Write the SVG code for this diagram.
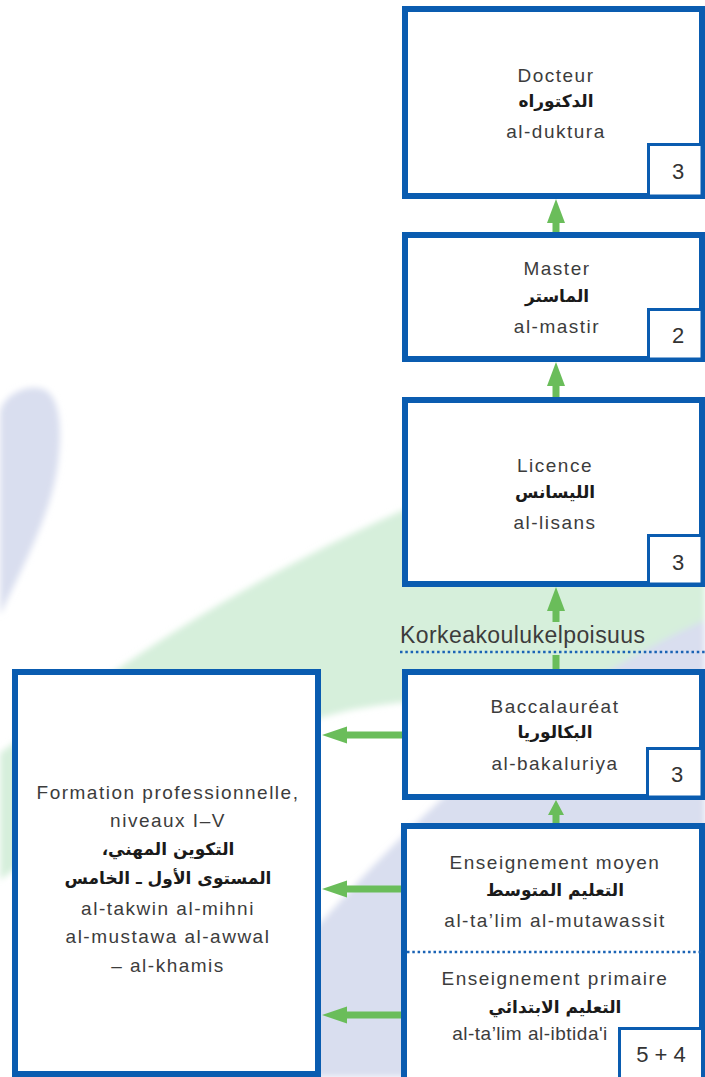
<svg xmlns="http://www.w3.org/2000/svg" width="705" height="1077" viewBox="0 0 705 1077">
<defs>
<style>
.box{fill:#fff;stroke:#0a5cb0;stroke-width:6}
.sbox{fill:#fff;stroke:#0a5cb0;stroke-width:3}
.t{font-family:"Liberation Sans",Arial,sans-serif;font-size:19px;letter-spacing:1.5px;fill:#3c3c3c;text-anchor:middle}
.ar{font-family:"DejaVu Sans",sans-serif;font-weight:bold;font-size:17px;fill:#1a1a1a;text-anchor:middle;direction:rtl}
.num{font-family:"Liberation Sans",Arial,sans-serif;font-size:22px;fill:#333;text-anchor:middle}
.arw{fill:#6abd5a}
.dot{stroke:#1a63b5;stroke-width:2.5;stroke-dasharray:2.5 2.8;fill:none}
</style>
<filter id="soft" x="-10%" y="-10%" width="120%" height="120%"><feGaussianBlur stdDeviation="3"/></filter>
</defs>
<rect width="705" height="1077" fill="#fff"/>
<g id="background" filter="url(#soft)">
<path d="M0 412 C5 392 30 383 45 390 C63 400 61 440 58 463 C52 512 25 562 0 615 Z" fill="#d9deef"/>
<path d="M0 753 C120 667 300 520 705 400 L705 700 C560 690 430 695 350 710 C220 740 80 820 0 880 Z" fill="#d6efdb"/>
<path d="M190 1077 C320 920 480 720 705 620 L705 1077 Z" fill="#d9deef"/>
</g>
<g id="connectors">
<polygon class="arw" points="556,199 547,223 565,223"/><rect class="arw" x="552.5" y="222" width="7" height="11"/>
<polygon class="arw" points="556,362 547,386 565,386"/><rect class="arw" x="552.5" y="385" width="7" height="12"/>
<polygon class="arw" points="556,587 547,611 565,611"/><rect class="arw" x="552.5" y="610" width="7" height="12"/><rect class="arw" x="552.5" y="655" width="7" height="15"/>
<polygon class="arw" points="556,800 548,815 564,815"/><rect class="arw" x="552.5" y="814" width="7" height="10"/>
<polygon class="arw" points="322,735 347,726.5 347,743.5"/><rect class="arw" x="346" y="731.5" width="56" height="7"/>
<polygon class="arw" points="322,889 347,880.5 347,897.5"/><rect class="arw" x="346" y="885.5" width="56" height="7"/>
<polygon class="arw" points="322,1015 347,1006.5 347,1023.5"/><rect class="arw" x="346" y="1011.5" width="56" height="7"/>
</g>
<g id="threshold">
<text x="400" y="643" font-family="Liberation Sans, Arial, sans-serif" font-size="23" fill="#3c3c3c" textLength="245">Korkeakoulukelpoisuus</text>
<line class="dot" x1="400" y1="652" x2="705" y2="652"/>
</g>
<g id="docteur">
<rect class="box" x="405" y="9" width="297" height="187"/>
<text class="t" x="556" y="82">Docteur</text>
<text class="ar" x="556" y="107">الدكتوراه</text>
<text class="t" x="556" y="138">al-duktura</text>
<rect class="sbox" x="648.5" y="144.5" width="53.5" height="51.5"/>
<text class="num" x="678" y="179">3</text>
</g>
<g id="master">
<rect class="box" x="405" y="235" width="297" height="124"/>
<text class="t" x="557" y="275">Master</text>
<text class="ar" x="557" y="302">الماستر</text>
<text class="t" x="557" y="333">al-mastir</text>
<rect class="sbox" x="648.5" y="309.5" width="53.5" height="49.5"/>
<text class="num" x="678" y="343">2</text>
</g>
<g id="licence">
<rect class="box" x="405" y="400" width="297" height="184"/>
<text class="t" x="555" y="472">Licence</text>
<text class="ar" x="555" y="498">الليسانس</text>
<text class="t" x="555" y="529">al-lisans</text>
<rect class="sbox" x="648.5" y="535.5" width="53.5" height="48.5"/>
<text class="num" x="678" y="570">3</text>
</g>
<g id="baccalaureat">
<rect class="box" x="405" y="672" width="297" height="125"/>
<text class="t" x="555" y="713">Baccalauréat</text>
<text class="ar" x="555" y="738">البكالوريا</text>
<text class="t" x="555" y="770">al-bakaluriya</text>
<rect class="sbox" x="647.5" y="748.5" width="54.5" height="48.5"/>
<text class="num" x="677" y="782">3</text>
</g>
<g id="enseignement">
<rect class="box" x="404" y="826" width="298" height="260"/>
<text class="t" x="555" y="869">Enseignement moyen</text>
<text class="ar" x="555" y="896">التعليم المتوسط</text>
<text class="t" x="555" y="927">al-ta’lim al-mutawassit</text>
<line class="dot" x1="407" y1="952" x2="702" y2="952"/>
<text class="t" x="555" y="985">Enseignement primaire</text>
<text class="ar" x="555" y="1013">التعليم الابتدائي</text>
<text class="t" x="530" y="1040" style="letter-spacing:0.5px">al-ta’lim al-ibtida'i</text>
<rect class="sbox" x="619.5" y="1028.5" width="83" height="52"/>
<text class="num" x="661" y="1062">5 + 4</text>
</g>
<g id="formation">
<rect class="box" x="15" y="672" width="303" height="402"/>
<text class="t" x="168" y="799">Formation professionnelle,</text>
<text class="t" x="168" y="827">niveaux I–V</text>
<text class="ar" x="168" y="855">التكوين المهني،</text>
<text class="ar" x="168" y="884">المستوى الأول ـ الخامس</text>
<text class="t" x="168" y="915">al-takwin al-mihni</text>
<text class="t" x="168" y="943">al-mustawa al-awwal</text>
<text class="t" x="168" y="972">– al-khamis</text>
</g>
</svg>
